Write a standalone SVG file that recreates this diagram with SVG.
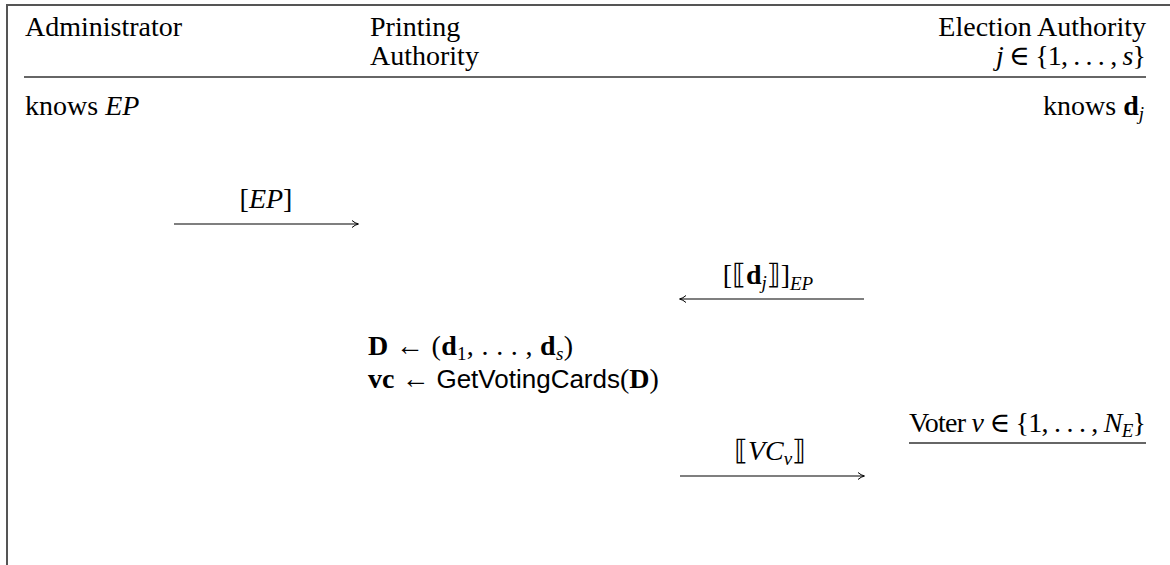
<svg xmlns="http://www.w3.org/2000/svg" width="1170" height="565" viewBox="0 0 1170 565">
  <defs>
    <marker id="tip" viewBox="0 0 10 10" refX="9" refY="5" markerWidth="10" markerHeight="10" markerUnits="userSpaceOnUse" orient="auto">
      <path d="M3,1.5 Q6,4.2 9.5,5 Q6,5.8 3,8.5" fill="none" stroke="#000" stroke-width="1"/>
    </marker>
    <style>
      text { font-family: "Liberation Serif", "DejaVu Serif", serif; font-size: 28px; fill: #000; }
      .it { font-style: italic; }
      .bf { font-weight: bold; }
      .sf { font-family: "Liberation Sans", "DejaVu Sans", sans-serif; font-size: 26px; }
      .sub { font-size: 19px; }
      .dbl { font-family: "DejaVu Sans", sans-serif; font-weight: normal; font-style: normal; }
      .rule { stroke: #333; stroke-width: 1.3; fill: none; }
      .frame { stroke: #555; stroke-width: 2; fill: none; }
      .msg { stroke: #000; stroke-width: 1.2; fill: none; marker-end: url(#tip); }
    </style>
  </defs>
  <rect width="1170" height="565" fill="#fff"/>

  <!-- outer frame: top and left edges -->
  <path class="frame" d="M7,565 V5 H1170"/>

  <!-- party headers -->
  <g id="administrator">
    <text x="25" y="36">Administrator</text>
    <text x="25" y="115">knows <tspan class="it">EP</tspan></text>
  </g>
  <g id="printing-authority">
    <text x="370" y="36">Printing</text>
    <text x="370" y="65">Authority</text>
    <text x="368" y="355" textLength="205"><tspan class="bf">D</tspan> ← (<tspan class="bf">d</tspan><tspan class="sub" dy="5">1</tspan><tspan dy="-5">, . . . , </tspan><tspan class="bf">d</tspan><tspan class="sub it" dy="5">s</tspan><tspan dy="-5">)</tspan></text>
    <text x="368" y="388"><tspan class="bf">vc</tspan> ← <tspan class="sf">GetVotingCards</tspan>(<tspan class="bf">D</tspan>)</text>
  </g>
  <g id="election-authority">
    <text x="1146" y="36" text-anchor="end">Election Authority</text>
    <text x="1146" y="65" text-anchor="end" textLength="150"><tspan class="it">j</tspan> ∈ {1, . . . , <tspan class="it">s</tspan>}</text>
    <text x="1144" y="115" text-anchor="end">knows <tspan class="bf">d</tspan><tspan class="sub it" dy="5">j</tspan></text>
  </g>
  <g id="voter">
    <text x="1146" y="432" text-anchor="end" textLength="237">Voter <tspan class="it">v</tspan> ∈ {1, . . . , <tspan class="it">N</tspan><tspan class="sub it" dy="5">E</tspan><tspan dy="-5">}</tspan></text>
    <line class="rule" x1="909" y1="443" x2="1146" y2="443"/>
  </g>

  <!-- header separator -->
  <line class="rule" x1="24" y1="77" x2="1146" y2="77"/>

  <!-- messages -->
  <g id="connectors">
    <line class="msg" x1="174" y1="224" x2="358" y2="224"/>
    <text x="266" y="208" text-anchor="middle">[<tspan class="it">EP</tspan>]</text>

    <line class="msg" x1="864" y1="299" x2="680" y2="299"/>
    <text x="768" y="284" text-anchor="middle">[<tspan class="dbl">⟦</tspan><tspan class="bf">d</tspan><tspan class="sub it" dy="5">j</tspan><tspan class="dbl" dy="-5">⟧</tspan>]<tspan class="sub it" dy="6">EP</tspan></text>

    <line class="msg" x1="680" y1="476" x2="864" y2="476"/>
    <text x="770" y="460" text-anchor="middle"><tspan class="dbl">⟦</tspan><tspan class="it">VC</tspan><tspan class="sub it" dy="5">v</tspan><tspan class="dbl" dy="-5">⟧</tspan></text>
  </g>
</svg>
